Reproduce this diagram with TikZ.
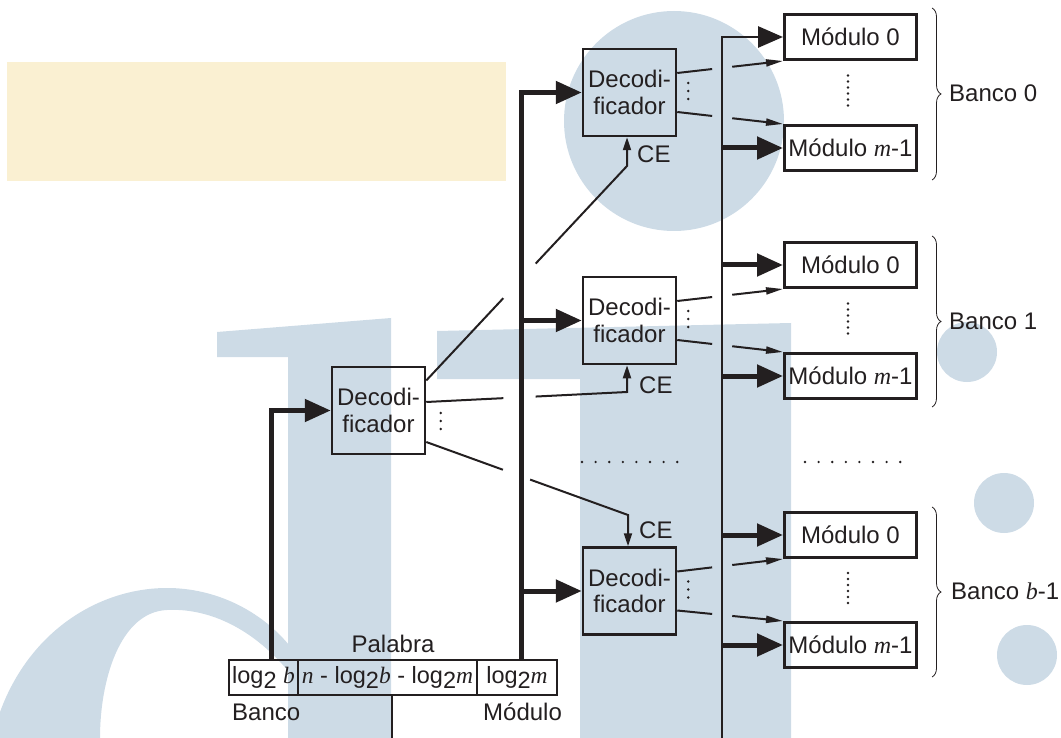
\documentclass[tikz,border=0pt]{standalone}
\usepackage{fontspec}
\setmainfont{Liberation Sans}
\newfontfamily\tmsfam{Liberation Serif}
\usetikzlibrary{arrows.meta,calc,decorations.pathreplacing}
\definecolor{ink}{RGB}{35,31,32}
\definecolor{wm}{RGB}{205,219,230}
\definecolor{beige}{RGB}{250,240,210}
\newcommand\vr[1]{{\tmsfam\itshape #1}}
\newcommand\lgt{log\raisebox{-0.24em}{2}}
\newcommand\fsz{\fontsize{24}{26.5}\selectfont}
\newcommand\fsc{\fontsize{23.5}{26}\selectfont}
\begin{document}
\begin{tikzpicture}[x=1pt,y=-1pt,font=\fsz,text=ink,
  dec/.style={draw=ink,line width=2.5pt,minimum width=93pt,minimum height=87pt,align=center,inner sep=0pt},
  mod/.style={draw=ink,line width=3pt,minimum width=132pt,minimum height=45pt,inner sep=0pt},
  cell/.style={draw=ink,line width=2pt,minimum height=35pt,inner sep=0pt,font=\fsc},
  lbl/.style={inner sep=0pt},
  bigarr/.style={draw=ink,line width=5pt,-{Triangle[length=26pt,width=22pt]}},
  rbus/.style={draw=ink,line width=2.8pt},
  ln/.style={draw=ink,line width=2pt},
  thinarr/.style={draw=ink,line width=2pt,-{Triangle[length=17pt,width=7pt]}},
  cearr/.style={draw=ink,line width=2pt,-{Triangle[length=13pt,width=8pt]}},
  brc/.style={draw=ink,line width=0.8pt,decorate,decoration={brace,amplitude=9pt}},
  dot/.style={fill=ink}
]
\useasboundingbox (0,0) rectangle (1061,738);
% watermark background
\fill[beige] (7,62) rectangle (506,181);
\fill[wm] (674,121) circle[radius=110pt];
\fill[wm] (217,332) -- (391,318) -- (391,738) -- (288,738) -- (288,357) -- (217,357) -- cycle;
\fill[wm] (437,331) -- (791,323) -- (791,738) -- (580,738) -- (580,379) -- (437,379) -- cycle;
\fill[wm] (0,712) .. controls (30,630) and (100,588) .. (167,588)
  .. controls (215,588) and (260,610) .. (289,645) -- (289,672)
  .. controls (250,625) and (205,608) .. (167,610)
  .. controls (120,612) and (100,680) .. (100,738) -- (0,738) -- cycle;
\fill[wm] (967,352) circle[radius=30pt];
\fill[wm] (1004,503) circle[radius=30pt];
\fill[wm] (1027,655) circle[radius=30pt];

% decoders
\node[dec] (DC) at (378.5,410.5) {Decodi-\\ficador};
\node[dec] (D0) at (629.5,92.5) {Decodi-\\ficador};
\node[dec] (D1) at (629.5,320.5) {Decodi-\\ficador};
\node[dec] (Db) at (629.5,591) {Decodi-\\ficador};
% modules
\node[mod] (M00) at (850.5,37) {Módulo 0};
\node[mod] (M0m) at (850.5,148) {Módulo \vr{m}-1};
\node[mod] (M10) at (850.5,265) {Módulo 0};
\node[mod] (M1m) at (850.5,376) {Módulo \vr{m}-1};
\node[mod] (Mb0) at (850.5,535) {Módulo 0};
\node[mod] (Mbm) at (850.5,645) {Módulo \vr{m}-1};
% address word
\node[cell,minimum width=69pt] (c1) at (263.5,677.5) {\lgt\ \vr{b}};
\node[cell,minimum width=179pt] (c2) at (387.5,677.5) {\vr{n} - \lgt\vr{b} - \lgt\vr{m}};
\node[cell,minimum width=80pt] (c3) at (517,677.5) {\lgt\vr{m}};
\node[lbl,anchor=base] (pal) at (393,652) {Palabra};
\node[lbl,anchor=base west] (bk) at (232,720) {Banco};
\node[lbl,anchor=base west] (md) at (483,720) {Módulo};
% CE labels
\node[lbl,anchor=base west] (ce0) at (637,163) {CE};
\node[lbl,anchor=base west] (ce1) at (639,393) {CE};
\node[lbl,anchor=base west] (ce2) at (639,538) {CE};
% bank labels and braces
\draw[brc] (932,8) -- (932,180);
\draw[brc] (932,236) -- (932,407);
\draw[brc] (932,507) -- (932,677);
\node[lbl,anchor=base west] (B0) at (949,102) {Banco 0};
\node[lbl,anchor=base west] (B1) at (949,330) {Banco 1};
\node[lbl,anchor=base west] (Bb) at (951,599) {Banco \vr{b}-1};

% buses
\coordinate (bx) at (521,0);
\coordinate (lx) at (271,0);
\coordinate (rx) at (722,0);
\coordinate (rbot) at (722,738);
\coordinate (wbot) at (392,738);
\draw[bigarr] (c3.north -| bx) |- (D0.west);
\draw[bigarr] (D1.west -| bx) -- (D1.west);
\draw[bigarr] (Db.west -| bx) -- (Db.west);
\draw[bigarr] (c1.north -| lx) |- (DC.west);
\draw[ln] (c2.south -| wbot) -- (wbot);
\draw[rbus,-{Triangle[length=25pt,width=21pt]}] (rbot) |- (M00.west);
\foreach \m in {M0m,M10,M1m,Mb0,Mbm}
  \draw[bigarr] (\m.west -| rx) -- (\m.west);

% decoder outputs (crossing the bus)
\foreach \da/\ma/\mb in {D0/M00/M0m,D1/M10/M1m,Db/Mb0/Mbm}{
  \coordinate (pa) at ($(\da.east)+(0,-19.5)$);
  \coordinate (pb) at (\ma.south west);
  \draw[ln] (pa) -- ($(pa)!0.33!(pb)$);
  \draw[thinarr] ($(pa)!0.52!(pb)$) -- (pb);
  \coordinate (qa) at ($(\da.east)+(0,19.5)$);
  \coordinate (qb) at (\mb.north west);
  \draw[ln] (qa) -- ($(qa)!0.33!(qb)$);
  \draw[thinarr] ($(qa)!0.52!(qb)$) -- (qb);
  \foreach \y in {-8,0,8}
    \fill[dot] ($(\da.east)+(11,\y-1.5)$) circle[radius=1.4pt];
  \path (\ma.south) -- (\mb.north) coordinate[pos=0.5] (mid);
  \foreach \k in {0,...,5}
    \fill[dot] ($(mid -| 848,0)+(0,-17+6*\k)$) circle[radius=1.3pt];
}
\foreach \y in {-8,0,8}
  \fill[dot] ($(DC.east)+(14.5,\y+10.5)$) circle[radius=1.4pt];

% chip-enable lines
\coordinate (s0) at ($(DC.east)+(0,-30)$);
\coordinate (k0) at (627,166);
\draw[ln] (s0) -- ($(s0)!0.384!(k0)$);
\draw[cearr] ($(s0)!0.545!(k0)$) -- (k0) -- (k0 |- D0.south);
\coordinate (s1) at ($(DC.east)+(0,-8.5)$);
\coordinate (k1) at (627,392);
\draw[ln] (s1) -- ($(s1)!0.384!(k1)$);
\draw[cearr] ($(s1)!0.545!(k1)$) -- (k1) -- (k1 |- D1.south);
\coordinate (s2) at ($(DC.east)+(0,31.5)$);
\coordinate (k2) at (628,515);
\draw[ln] (s2) -- ($(s2)!0.38!(k2)$);
\draw[cearr] ($(s2)!0.515!(k2)$) -- (k2) -- (k2 |- Db.north);

% omitted-bank dots
\foreach \k in {0,...,7}{
  \fill[dot] (582+13.6*\k,462) circle[radius=1.3pt];
  \fill[dot] (805+13.6*\k,462) circle[radius=1.3pt];
}
\end{tikzpicture}
\end{document}
